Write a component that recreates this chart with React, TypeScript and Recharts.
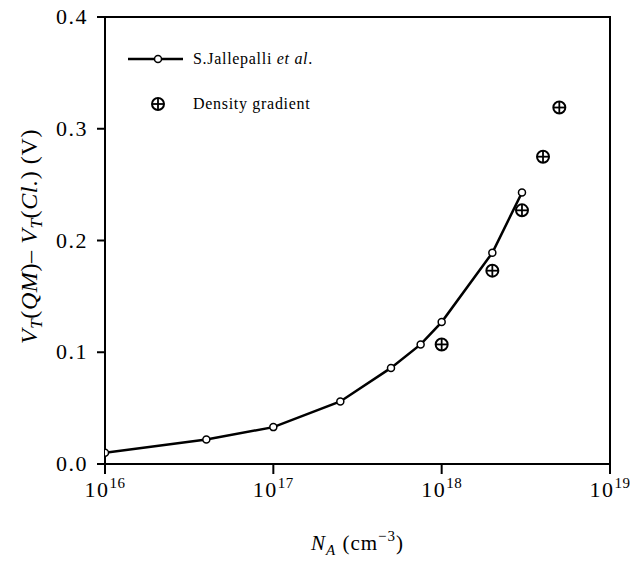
import {
  ComposedChart,
  Line,
  Scatter,
  XAxis,
  YAxis,
  Label,
  Legend,
  ReferenceArea,
} from "recharts";

const serif = "Liberation Serif, serif";

// S.Jallepalli et al. curve
const jallepalliNA = [1e16, 4e16, 1e17, 2.5e17, 5e17, 7.5e17, 1e18, 2e18, 3e18];
const jallepalliVt = [0.01, 0.022, 0.033, 0.056, 0.086, 0.107, 0.127, 0.189, 0.243];

// density gradient points
const densityNA = [1e18, 2e18, 3e18, 4e18, 5e18];
const densityVt = [0.107, 0.173, 0.227, 0.275, 0.319];

const xTicks = [1e16, 1e17, 1e18, 1e19];
const yTicks = [0, 0.1, 0.2, 0.3, 0.4];

const jallepalliData = jallepalliNA.map((x, i) => ({ x, y: jallepalliVt[i] }));
const densityData = densityNA.map((x, i) => ({ x, y: densityVt[i] }));

const CrossCircle = ({ cx, cy }: any) => (
  <g>
    <circle cx={cx} cy={cy} r={6} fill="#fff" stroke="#000" strokeWidth={2} />
    <line x1={cx - 6} y1={cy} x2={cx + 6} y2={cy} stroke="#000" strokeWidth={1.8} />
    <line x1={cx} y1={cy - 6} x2={cx} y2={cy + 6} stroke="#000" strokeWidth={1.8} />
  </g>
);

const XTick = ({ x, y, payload }: any) => {
  const exp = Math.round(Math.log10(payload.value));
  return (
    <text x={x} y={y + 21} textAnchor="middle" fill="#000" fontFamily={serif} fontSize={22} letterSpacing={1.5}>
      <tspan>10</tspan>
      <tspan dy={-9} fontSize={15} letterSpacing={0.5}>
        {exp}
      </tspan>
    </text>
  );
};

const YTick = ({ x, y, payload }: any) => (
  <text x={x} y={y + 7} textAnchor="end" fill="#000" fontFamily={serif} fontSize={22} letterSpacing={1.5}>
    {payload.value.toFixed(1)}
  </text>
);

const YTitle = ({ viewBox }: any) => {
  const cx = viewBox.x + 37;
  const cy = viewBox.y + viewBox.height / 2 - 4;
  return (
    <text
      x={cx}
      y={cy}
      transform={`rotate(-90 ${cx} ${cy})`}
      textAnchor="middle"
      fill="#000"
      fontFamily={serif}
      fontSize={24}
      letterSpacing={0.6}
    >
      <tspan fontStyle="italic">V</tspan>
      <tspan fontStyle="italic" fontSize={17} dy={5}>T</tspan>
      <tspan dy={-5}>(</tspan>
      <tspan fontStyle="italic">QM</tspan>
      <tspan>)– </tspan>
      <tspan fontStyle="italic">V</tspan>
      <tspan fontStyle="italic" fontSize={17} dy={5}>T</tspan>
      <tspan dy={-5}>(</tspan>
      <tspan fontStyle="italic">Cl.</tspan>
      <tspan>) (V)</tspan>
    </text>
  );
};

const XTitle = ({ viewBox }: any) => {
  const cx = viewBox.x + viewBox.width / 2;
  const cy = viewBox.y + 86;
  return (
    <text x={cx} y={cy} textAnchor="middle" fill="#000" fontFamily={serif} fontSize={21} letterSpacing={1}>
      <tspan fontStyle="italic">N</tspan>
      <tspan fontStyle="italic" fontSize={15} dy={5}>A</tspan>
      <tspan dy={-5}> (cm</tspan>
      <tspan fontSize={15} dy={-9}>−3</tspan>
      <tspan dy={9}>)</tspan>
    </text>
  );
};

const renderLegend = () => (
  <div style={{ fontFamily: serif, fontSize: 16, letterSpacing: 0.7, color: "#000", lineHeight: "20px" }}>
    <div style={{ display: "flex", alignItems: "center", height: 20 }}>
      <svg width={60} height={20}>
        <line x1={0} y1={10} x2={55} y2={10} stroke="#000" strokeWidth={2.5} />
        <circle cx={30} cy={10} r={3.5} fill="#fff" stroke="#000" strokeWidth={1.5} />
      </svg>
      <span style={{ marginLeft: 5 }}>
        S.Jallepalli <i>et al</i>.
      </span>
    </div>
    <div style={{ display: "flex", alignItems: "center", height: 20, marginTop: 25 }}>
      <svg width={60} height={20}>
        <CrossCircle cx={30} cy={10} />
      </svg>
      <span style={{ marginLeft: 5 }}>Density gradient</span>
    </div>
  </div>
);

export default function App() {
  return (
    <div style={{ position: "absolute", left: 0, top: 0, background: "#fff", fontFamily: serif }}>
      <ComposedChart width={630} height={561} margin={{ top: 17, right: 20, bottom: 0, left: 0 }}>
        <XAxis
          type="number"
          dataKey="x"
          scale="log"
          domain={[1e16, 1e19]}
          ticks={xTicks}
          interval={0}
          allowDataOverflow
          height={97}
          tickSize={10}
          tick={<XTick />}
          axisLine={{ stroke: "#000", strokeWidth: 2 }}
          tickLine={{ stroke: "#000", strokeWidth: 2 }}
        >
          <Label content={<XTitle />} />
        </XAxis>
        <YAxis
          type="number"
          domain={[0, 0.4]}
          ticks={yTicks}
          interval={0}
          width={105}
          tickSize={8}
          tickMargin={9}
          tick={<YTick />}
          axisLine={{ stroke: "#000", strokeWidth: 2 }}
          tickLine={{ stroke: "#000", strokeWidth: 2 }}
        >
          <Label content={<YTitle />} />
        </YAxis>
        <ReferenceArea
          x1={1e16}
          x2={1e19}
          y1={0}
          y2={0.4}
          fill="none"
          fillOpacity={0}
          stroke="#000"
          strokeWidth={2}
        />
        <Legend
          layout="horizontal"
          verticalAlign="middle"
          align="center"
          content={renderLegend}
          wrapperStyle={{ left: 128, top: 49, width: "auto", height: "auto" }}
        />
        <Line
          data={jallepalliData}
          dataKey="y"
          type="linear"
          stroke="#000"
          strokeWidth={2.5}
          dot={{ r: 3.5, fill: "#fff", stroke: "#000", strokeWidth: 1.5 }}
          isAnimationActive={false}
        />
        <Scatter data={densityData} dataKey="y" shape={<CrossCircle />} isAnimationActive={false} />
      </ComposedChart>
    </div>
  );
}
